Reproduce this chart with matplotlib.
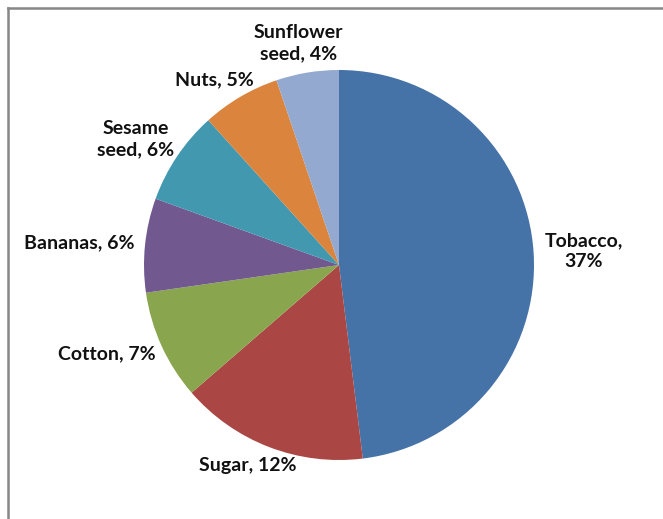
import numpy as np
import matplotlib
matplotlib.use('Agg')
import matplotlib.pyplot as plt
from matplotlib.lines import Line2D

#---------------Data---------------------------------
crops = ['Tobacco', 'Sugar', 'Cotton', 'Bananas', 'Sesame\nseed', 'Nuts', 'Sunflower\nseed']
label_names = ['Tobacco,', 'Sugar,', 'Cotton,', 'Bananas,', 'Sesame\nseed,', 'Nuts,', 'Sunflower\nseed,']
shares = [37, 12, 7, 6, 6, 5, 4]
wedge_colors = ['#4572A7', '#AA4643', '#89A54E', '#71588F', '#4198AF', '#DB843D', '#93A9CF']
# labels that break after the comma instead of before it
two_line_after_comma = ['Tobacco']

#---------------Figure---------------------------------
fig = plt.figure(figsize=(6.63, 5.19), dpi=100)
ax = fig.add_axes([0, 0, 1, 1])
ax.set_xlim(0, 663)
ax.set_ylim(519, 0)
ax.axis('off')

cx, cy, R = 339, 265, 195
pie_ax = fig.add_axes([(cx - R) / 663, 1 - (cy + R) / 519, 2 * R / 663, 2 * R / 519])
wedges, _ = pie_ax.pie(shares, colors=wedge_colors, startangle=90, counterclock=False,
                       wedgeprops=dict(linewidth=0))
pie_ax.set_aspect('auto')
pie_ax.set_xlim(-1, 1)
pie_ax.set_ylim(-1, 1)

# border of the chart area (top and left only are visible)
fig.add_artist(Line2D([8 / 663, 1], [1 - 8 / 519, 1 - 8 / 519], color='#878787', lw=1.8))
fig.add_artist(Line2D([8 / 663, 8 / 663], [0, 1 - 8 / 519], color='#878787', lw=1.8))

#---------------Labels (Excel style outside end)------
fig.canvas.draw()
renderer = fig.canvas.get_renderer()
gap = 11
for name, crop, val, w in zip(label_names, crops, shares, wedges):
    if crop in two_line_after_comma:
        txt = f"{name}\n{val}%"
    else:
        txt = f"{name} {val}%"
    ang = np.deg2rad((w.theta1 + w.theta2) / 2)
    t = ax.text(0, 0, txt, ha='center', va='center', fontsize=14, fontweight='bold',
                family='Lato', color='#111111', linespacing=1.3)
    bb = t.get_window_extent(renderer)
    tw, th = bb.width, bb.height
    ax_x = cx + (R + gap) * np.cos(ang) + np.cos(ang) * tw / 2
    ax_y = cy - (R + gap) * np.sin(ang) - np.sin(ang) * th / 2
    t.set_position((ax_x, ax_y))

fig.savefig('out.png', dpi=100)
